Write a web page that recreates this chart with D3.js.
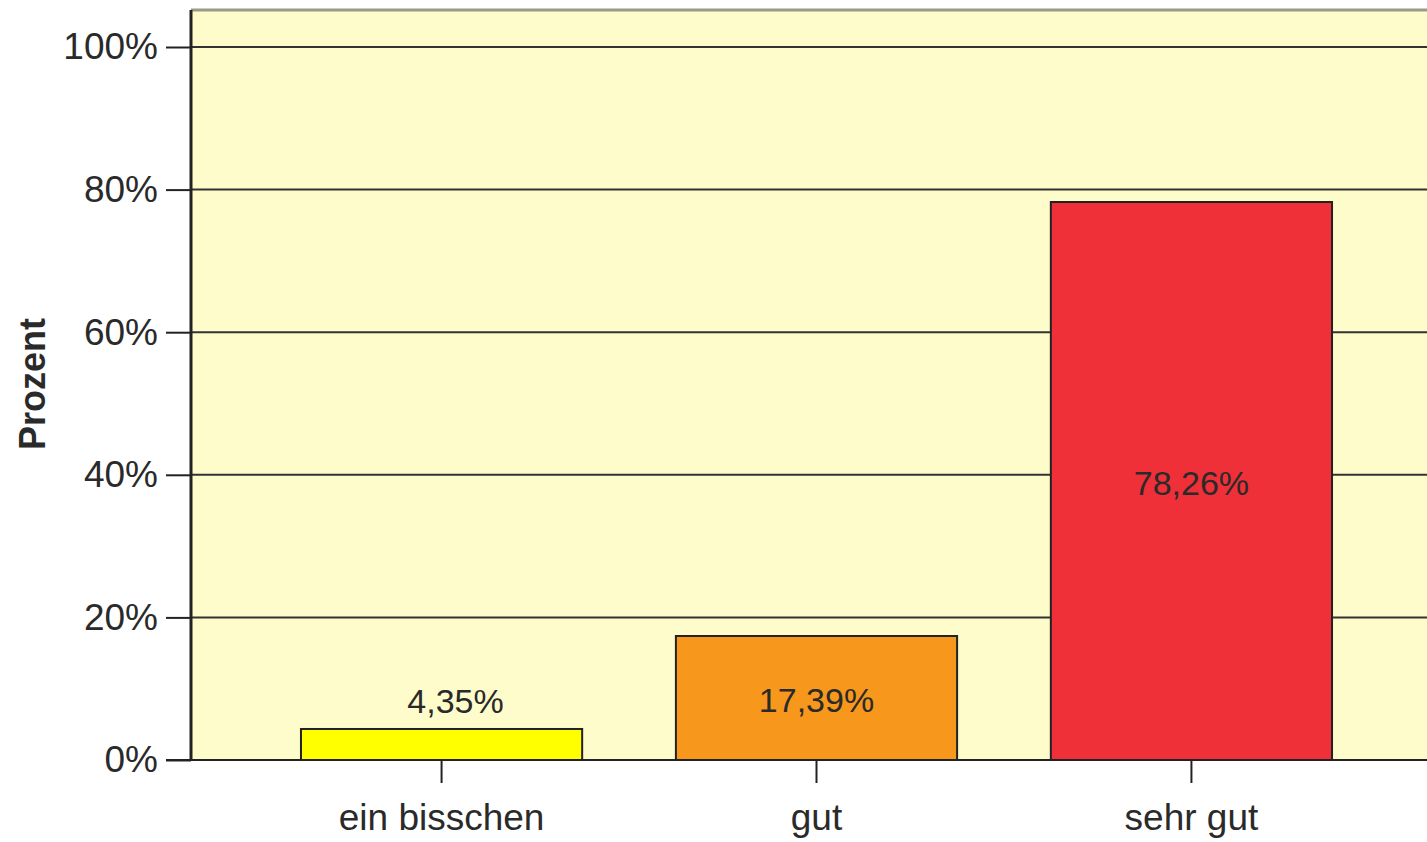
<!DOCTYPE html>
<html><head><meta charset="utf-8">
<script src="https://cdn.jsdelivr.net/npm/d3@7"></script>
<style>
html,body{margin:0;padding:0;background:#fff;}
svg{display:block;}
text{font-family:"Liberation Sans",Arial,sans-serif;fill:#2a2a2a;}
</style></head>
<body>
<svg id="chart" width="1427" height="842"></svg>
<script>
const categories = ["ein bisschen", "gut", "sehr gut"];
const values = [4.35, 17.39, 78.26];
const valueLabels = ["4,35%", "17,39%", "78,26%"];
const barColors = ["#FFFF00", "#F7981D", "#EF3038"];
const yTicks = [0, 20, 40, 60, 80, 100];
const yTickLabels = ["0%", "20%", "40%", "60%", "80%", "100%"];
const yTitle = "Prozent";

const svg = d3.select("#chart");
const mLeft = 191, mTop = 10, mBottom = 760, mRight = 1442;

const x = d3.scaleBand().domain(categories).range([mLeft, mRight])
  .paddingInner(0.25).paddingOuter(0.2933);
const y = d3.scaleLinear().domain([0, 100]).range([mBottom, 47]);

// plot background
svg.append("rect").attr("x", mLeft).attr("y", mTop)
  .attr("width", mRight - mLeft).attr("height", mBottom - mTop)
  .attr("fill", "#FFFCCB");

// top border
svg.append("line").attr("x1", mLeft).attr("x2", mRight).attr("y1", mTop).attr("y2", mTop)
  .attr("stroke", "#9a9a88").attr("stroke-width", 3);

// gridlines
svg.append("g").selectAll("line").data(yTicks.filter(d => d > 0)).join("line")
  .attr("x1", mLeft).attr("x2", mRight)
  .attr("y1", d => y(d)).attr("y2", d => y(d))
  .attr("stroke", "#333").attr("stroke-width", 2);

// bars
svg.append("g").selectAll("rect").data(values).join("rect")
  .attr("x", (d, i) => x(categories[i]))
  .attr("width", x.bandwidth())
  .attr("y", d => y(d))
  .attr("height", d => y(0) - y(d))
  .attr("fill", (d, i) => barColors[i])
  .attr("stroke", "#222").attr("stroke-width", 2);

// y axis
const yAxis = d3.axisLeft(y).tickValues(yTicks)
  .tickFormat((d, i) => yTickLabels[i]).tickSize(25).tickPadding(8);
const gy = svg.append("g").attr("transform", `translate(${mLeft},0)`).call(yAxis);
gy.select(".domain").remove();
gy.selectAll(".tick line").attr("stroke", "#222").attr("stroke-width", 2);
gy.selectAll(".tick text").attr("font-size", 37).attr("fill", "#2a2a2a")
  .attr("font-family", "Liberation Sans, Arial, sans-serif");
svg.append("line").attr("x1", mLeft).attr("x2", mLeft).attr("y1", mTop).attr("y2", mBottom + 1)
  .attr("stroke", "#222").attr("stroke-width", 3);

// x axis
const xAxis = d3.axisBottom(x).tickSize(23).tickPadding(21);
const gx = svg.append("g").attr("transform", `translate(0,${mBottom})`).call(xAxis);
gx.select(".domain").remove();
gx.selectAll(".tick line").attr("stroke", "#222").attr("stroke-width", 2);
gx.selectAll(".tick text").attr("font-size", 37).attr("fill", "#2a2a2a")
  .attr("font-family", "Liberation Sans, Arial, sans-serif");
svg.append("line").attr("x1", 166).attr("x2", mRight).attr("y1", mBottom).attr("y2", mBottom)
  .attr("stroke", "#222").attr("stroke-width", 2);

// value labels
svg.append("g").selectAll("text").data(values).join("text")
  .attr("x", (d, i) => x(categories[i]) + x.bandwidth() / 2)
  .attr("dx", d => (y(0) - y(d) < 60 ? 14 : 0))
  .attr("y", d => {
    const h = y(0) - y(d);
    return h < 60 ? y(d) - 16 : (y(d) + y(0)) / 2 + 14;
  })
  .attr("text-anchor", "middle").attr("font-size", 34)
  .text((d, i) => valueLabels[i]);

// y title
svg.append("text").attr("transform", "translate(45,384) rotate(-90)")
  .attr("text-anchor", "middle").attr("font-size", 36).attr("font-weight", "bold")
  .attr("fill", "#000").text(yTitle);
</script>
</body></html>
